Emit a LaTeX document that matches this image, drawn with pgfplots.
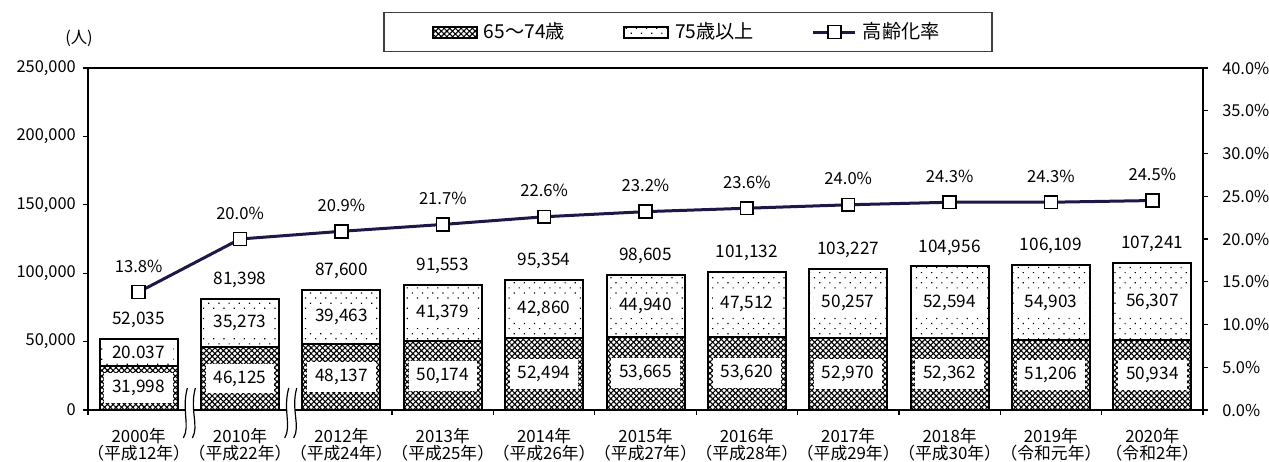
\documentclass[border=0pt]{standalone}
\usepackage{fontspec}
\setmainfont{Noto Sans CJK JP}
\usepackage{pgfplots}
\usepackage{pgfplotstable}
\pgfplotsset{compat=1.18}
\usetikzlibrary{patterns.meta}
\definecolor{linec}{RGB}{32,22,72}

\pgfplotstableread{
x a b tot pct la lb lt
0 31998 20037 52035 13.8 31,998 20.037 52,035
1 46125 35273 81398 20.0 46,125 35,273 81,398
2 48137 39463 87600 20.9 48,137 39,463 87,600
3 50174 41379 91553 21.7 50,174 41,379 91,553
4 52494 42860 95354 22.6 52,494 42,860 95,354
5 53665 44940 98605 23.2 53,665 44,940 98,605
6 53620 47512 101132 23.6 53,620 47,512 101,132
7 52970 50257 103227 24.0 52,970 50,257 103,227
8 52362 52594 104956 24.3 52,362 52,594 104,956
9 51206 54903 106109 24.3 51,206 54,903 106,109
10 50934 56307 107241 24.5 50,934 56,307 107,241
}\data

\tikzset{
  lowpat/.style={pattern={Hatch[angle=45,distance=2pt,line width=0.55pt]}, draw=black, line width=1pt},
  highpat/.style={pattern={Dots[distance=3.6pt,angle=45,radius=0.42pt]}, draw=black, line width=1pt},
}
\pgfplotsset{
  linelegend/.style={legend image code/.code={%
    \draw[linec, line width=1.5pt] (0pt,0pt) -- (21pt,0pt);
    \draw[black, fill=white, line width=0.8pt] (7.3pt,-3.2pt) rectangle (13.7pt,3.2pt);}},
  barlegend/.style={legend image code/.code={\draw[#1] (0pt,-2.75pt) rectangle (22pt,2.75pt);}},
}

\begin{document}
\begin{tikzpicture}
\pgfplotsset{
  common/.style={
    scale only axis, width=557.5pt, height=171pt,
    xmin=-0.5, xmax=10.5,
    /pgf/number format/assume math mode=true,
    tick label style={font=\fontsize{8.2}{9.8}\selectfont},
  },
}
\begin{axis}[common, name=main,
  ymin=0, ymax=250000,
  ybar stacked, bar width=39pt,
  axis line style={black, line width=0.9pt},
  ytick={0,50000,...,250000}, ytick pos=left,
  scaled y ticks=false,
  yticklabel style={/pgf/number format/.cd, fixed, 1000 sep={,}},
  tick align=outside, major tick length=2.6pt,
  tick style={black, line width=0.6pt},
  xtick={-0.5,0.5,...,10.5}, xticklabels={}, xtick pos=bottom,
  extra x ticks={0,1,...,10},
  extra x tick labels={{2000年\\（平成12年）},{2010年\\（平成22年）},{2012年\\（平成24年）},{2013年\\（平成25年）},{2014年\\（平成26年）},{2015年\\（平成27年）},{2016年\\（平成28年）},{2017年\\（平成29年）},{2018年\\（平成30年）},{2019年\\（令和元年）},{2020年\\（令和2年）}},
  extra x tick style={major tick length=0pt, tick label style={align=center, font=\fontsize{8.4}{8.7}\selectfont, yshift=-5.5pt}},
  legend cell align=left,
  legend style={at={(rel axis cs:0.538,1.105)}, anchor=center, legend columns=3,
    draw=black!75, line width=0.8pt, font=\fontsize{9.6}{10}\selectfont,
    inner xsep=24pt, inner ysep=3pt,
    /tikz/every odd column/.append style={column sep=1pt},
    /tikz/every even column/.append style={column sep=27pt}},
]
\addplot[lowpat, barlegend] table[x=x,y=a]{\data};
\addlegendentry{65～74歳}
\addplot[highpat, barlegend] table[x=x,y=b]{\data};
\addlegendentry{75歳以上}
\addlegendimage{linelegend}
\addlegendentry{高齢化率}
\end{axis}

\begin{axis}[common, at={(main.south west)}, anchor=south west,
  ymin=0, ymax=40,
  axis x line=none, axis y line*=right,
  axis line style={black, line width=0.9pt},
  ytick={0,5,...,40},
  yticklabel={\pgfmathprintnumber[fixed,fixed zerofill,precision=1]{\tick}\%},
  yticklabel style={xshift=3.5pt},
  tick align=outside, major tick length=2.6pt,
  tick style={black, line width=0.6pt},
  clip=false,
]
\addplot[linec, line width=1.5pt, mark=square*, mark size=3.2pt,
  mark options={fill=white, draw=black, line width=0.8pt},
  nodes near coords={\pgfmathprintnumber[fixed,fixed zerofill,precision=1]{\pgfplotspointmeta}\%},
  point meta=explicit,
  every node near coord/.append style={font=\fontsize{8.3}{10}\selectfont, anchor=center, yshift=13pt, text=black}
] table[x=x,y=pct,meta=pct]{\data};
\end{axis}

\begin{axis}[common, at={(main.south west)}, anchor=south west,
  ymin=0, ymax=250000, hide axis, clip=false]
\addplot[draw=none, mark=none, nodes near coords, point meta=explicit symbolic,
  every node near coord/.append style={font=\fontsize{8.6}{10}\selectfont, anchor=center, fill=white, inner xsep=4pt, inner ysep=3.5pt}]
  table[x=x, y expr=\thisrow{a}/2, meta=la]{\data};
\addplot[draw=none, mark=none, nodes near coords, point meta=explicit symbolic,
  every node near coord/.append style={font=\fontsize{8.6}{10}\selectfont, anchor=center, fill=white, inner xsep=4pt, inner ysep=2pt}]
  table[x=x, y expr=\thisrow{a}+\thisrow{b}/2, meta=lb]{\data};
\addplot[draw=none, mark=none, nodes near coords, point meta=explicit symbolic,
  every node near coord/.append style={font=\fontsize{8.6}{10}\selectfont, anchor=center, yshift=9.5pt}]
  table[x=x, y=tot, meta=lt]{\data};
\coordinate (b1) at (axis cs:0.5,0);
\coordinate (b2) at (axis cs:1.5,0);
\end{axis}

\foreach \b in {b1,b2}{
  \begin{scope}[shift={(\b)}]
    \fill[white] (-1pt,11pt) .. controls (-4pt,0pt) and (0.5pt,-8pt) .. (-3pt,-14pt)
      -- (1.5pt,-14pt) .. controls (5pt,-8pt) and (0pt,0pt) .. (3pt,11pt) -- cycle;
    \draw[black, line width=0.6pt] (-1pt,11pt) .. controls (-4pt,0pt) and (0.5pt,-8pt) .. (-3pt,-14pt);
    \draw[black, line width=0.6pt] (3pt,11pt) .. controls (0pt,0pt) and (5pt,-8pt) .. (1.5pt,-14pt);
  \end{scope}
}

\node[font=\fontsize{8.2}{10}\selectfont] at ([xshift=-4.5pt,yshift=15pt]main.north west) {(人)};

\pgfresetboundingbox
\path[use as bounding box] (main.south west) ++(-44pt,-25.5pt) rectangle ++(634.5pt,230.5pt);
\end{tikzpicture}
\end{document}
